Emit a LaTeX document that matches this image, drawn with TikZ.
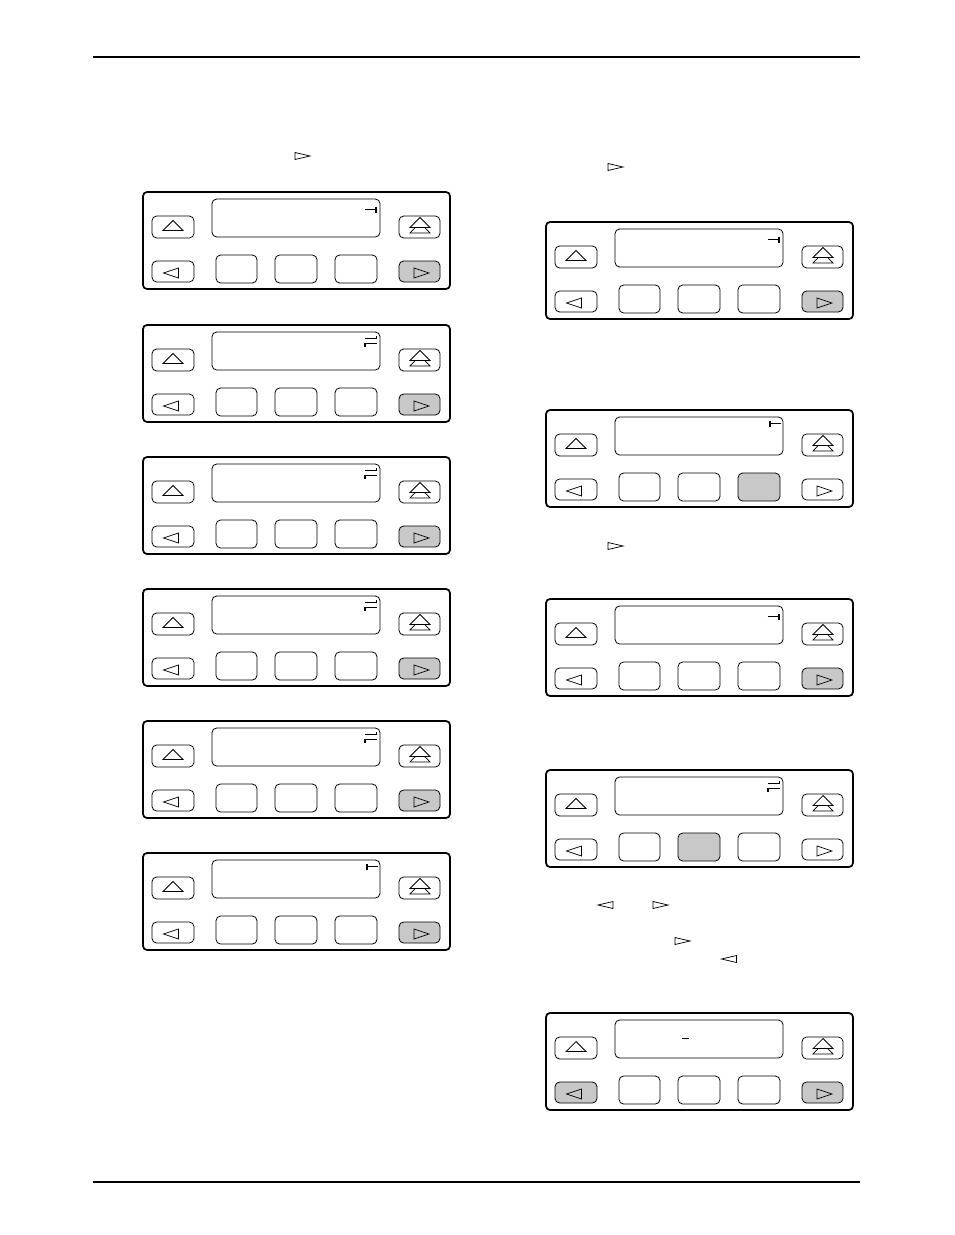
\documentclass[tikz,border=0pt]{standalone}
\begin{document}
\begin{tikzpicture}[x=0.75pt,y=-0.75pt,
  rule/.style={line width=0.8pt},
  frame/.style={draw,line width=1.3pt,rounded corners=3},
  key/.style={draw,line width=0.6pt,rounded corners=3.5},
  glyph/.style={draw,line width=0.55pt,line join=miter},
  icon/.style={line width=1.1pt,line cap=butt}]
\definecolor{keygray}{RGB}{200,200,200}
\useasboundingbox (0,0) rectangle (954,1235);
\draw[rule] (93,57) -- (860,57);
\draw[rule] (93,1182) -- (860,1182);
% #1 x, #2 y, #3 left fill, #4-#6 soft fills, #7 right fill, #8 icon code
\newcommand\kpanel[8]{%
 \begin{scope}[shift={(#1,#2)}]
  \draw[frame] (0,0) rectangle (307,97);
  \draw[key] (69,7) rectangle (237,45);
  \draw[key] (9,24) rectangle (51,46);
  \draw[key] (256,24) rectangle (297,46);
  \draw[key,fill=#3] (9,69) rectangle (51,90);
  \draw[key,fill=#4] (73,63) rectangle (114,91);
  \draw[key,fill=#5] (132,63) rectangle (174,91);
  \draw[key,fill=#6] (192,63) rectangle (234,91);
  \draw[key,fill=#7] (256,69) rectangle (297,90);
  \draw[glyph] (30,28.5) -- (40,38.5) -- (20,38.5) -- cycle;
  \draw[glyph] (277,30.5) -- (287,41) -- (267,41) -- cycle;
  \draw[glyph,fill=white] (277,25.5) -- (287,35.5) -- (267,35.5) -- cycle;
  \draw[glyph] (20.5,81) -- (35.5,76) -- (35.5,86) -- cycle;
  \draw[glyph] (286,81) -- (271,76) -- (271,86) -- cycle;
  #8
 \end{scope}}
\newcommand\iright{\draw[icon] (221.5,17.5) -- (233.5,17.5);\draw[icon] (233,14.5) -- (233,20.5);}
\newcommand\ileft{\draw[icon] (223.5,13.5) -- (234.5,13.5);\draw[icon] (224,10.5) -- (224,16.5);}
\newcommand\iboth{\draw[icon] (221.5,13.5) -- (234,13.5);\draw[icon] (233.5,10.5) -- (233.5,14);
  \draw[icon] (221.5,18.5) -- (234,18.5);\draw[icon] (222,18) -- (222,21.5);}
\newcommand\iunder{\draw[icon] (135.5,25.5) -- (142.5,25.5);}
\newcommand\tr[2]{\draw[glyph] (#1,#2-3.5) -- (#1+15,#2) -- (#1,#2+3.5) -- cycle;}
\newcommand\tl[2]{\draw[glyph] (#1,#2) -- (#1+15,#2-3.5) -- (#1+15,#2+3.5) -- cycle;}
% left column
\kpanel{143}{192}{white}{white}{white}{white}{keygray}{\iright}
\kpanel{143}{325}{white}{white}{white}{white}{keygray}{\iboth}
\kpanel{143}{457}{white}{white}{white}{white}{keygray}{\iboth}
\kpanel{143}{589}{white}{white}{white}{white}{keygray}{\iboth}
\kpanel{143}{721}{white}{white}{white}{white}{keygray}{\iboth}
\kpanel{143}{853}{white}{white}{white}{white}{keygray}{\ileft}
% right column
\kpanel{546}{222}{white}{white}{white}{white}{keygray}{\iright}
\kpanel{546}{410}{white}{white}{white}{keygray}{white}{\ileft}
\kpanel{546}{599}{white}{white}{white}{white}{keygray}{\iright}
\kpanel{546}{770}{white}{white}{keygray}{white}{white}{\iboth}
\kpanel{546}{1013}{keygray}{white}{white}{white}{keygray}{\iunder}
% inline glyphs
\tr{295}{156}
\tr{608}{167}
\tr{608}{546}
\tl{598}{905}
\tr{653}{905}
\tr{675}{941}
\tl{721.5}{959}
\end{tikzpicture}
\end{document}
